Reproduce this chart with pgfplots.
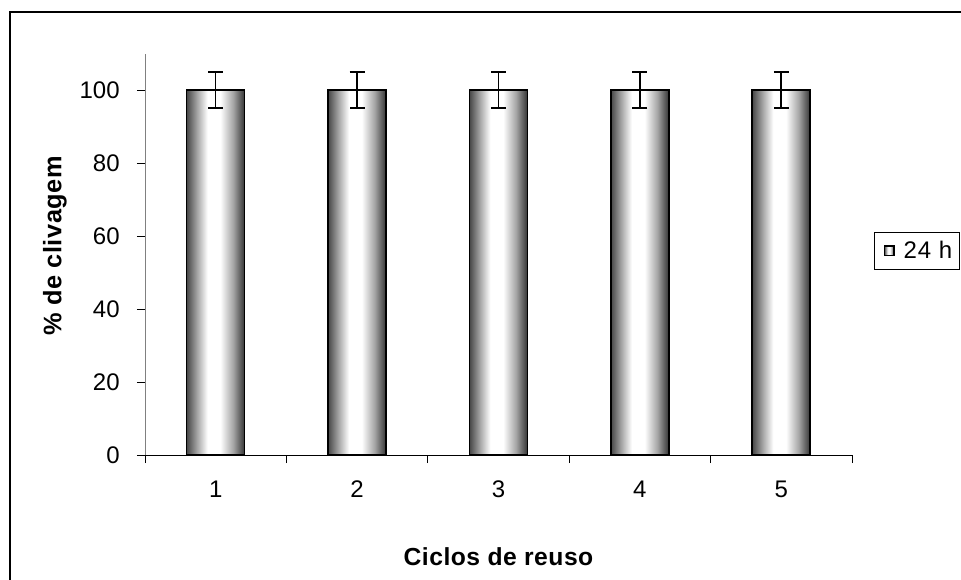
\documentclass[border=0pt]{standalone}
\usepackage{pgfplots}
\pgfplotsset{compat=1.18}
\usepackage{fontspec}
\setmainfont{Liberation Sans}
\newfontfamily\tickfont{Liberation Sans}
\newfontfamily\xlabfont{Liberation Sans}[LetterSpace=2]
\newfontfamily\ylabfont{Liberation Sans}[LetterSpace=2]
\newfontfamily\legfont{Liberation Sans}[LetterSpace=4]
\pgfdeclarehorizontalshading{barshade}{100bp}{color(0bp)=(black!72); color(25bp)=(black!72); color(34bp)=(black!35); color(43bp)=(white); color(54bp)=(white); color(65bp)=(black!35); color(75bp)=(black!80); color(100bp)=(black!80)}
\pgfplotsset{
  mybar/.style={ybar, bar width=43.5pt, bar shift=0pt, draw=black, line width=1.2pt, shade, shading=barshade,
    error bars/y dir=both, error bars/y explicit,
    error bars/error bar style={line width=1.2pt, black},
    error bars/error mark options={rotate=90, mark size=5.6pt, line width=1.2pt, black}},
}
\begin{document}
\begin{tikzpicture}
\useasboundingbox (0,0) rectangle (720.75pt,-434.25pt);
\draw[line width=1.5pt] (7.5pt,-440pt) -- (7.5pt,-9pt) -- (730pt,-9pt);
\begin{axis}[
  at={(108.75pt,-341.25pt)}, anchor=south west,
  scale only axis, width=530.25pt, height=301.125pt,
  ymin=0, ymax=110, xmin=0.5, xmax=5.5,
  ytick={0,20,...,100}, xtick={1,2,3,4,5},
  minor xtick={0.5,1.5,2.5,3.5,4.5,5.5},
  axis lines=left, axis line style={-},
  y axis line style={gray},
  tick align=outside, major tick length=6pt, minor tick length=6pt,
  major x tick style={draw=none},
  tick style={black, line width=0.6pt},
  ticklabel style={font=\tickfont\fontsize{18}{21}\selectfont},
  yticklabel style={xshift=-9.5pt},
  xticklabel style={yshift=-10pt},
  /pgf/number format/assume math mode=true,
  xlabel={Ciclos de reuso}, ylabel={\% de clivagem},
  xlabel style={at={(axis description cs:0.5,-0.254)}, anchor=center, font=\xlabfont\bfseries\fontsize{18.5}{21}\selectfont},
  ylabel style={at={(axis description cs:-0.1273,0.5205)}, anchor=center, font=\ylabfont\bfseries\fontsize{19}{22}\selectfont},
  legend style={at={(1.0311,0.5554)}, anchor=north west, draw=black, line width=0.6pt,
    font=\legfont\fontsize{18}{21}\selectfont, inner xsep=3pt, inner ysep=4.5pt},
  legend image code/.code={\draw[#1, line width=0.9pt] (4.5pt,-3.6pt) rectangle (11.7pt,3.6pt); \path[draw=none] (0pt,0pt) -- (17pt,0pt);},
]
\addplot[mybar] coordinates {(1,100) +- (0,5)};
\addlegendentry{24 h}
\addplot[mybar, forget plot] coordinates {(2,100) +- (0,5)};
\addplot[mybar, forget plot] coordinates {(3,100) +- (0,5)};
\addplot[mybar, forget plot] coordinates {(4,100) +- (0,5)};
\addplot[mybar, forget plot] coordinates {(5,100) +- (0,5)};
\end{axis}
\end{tikzpicture}
\end{document}
